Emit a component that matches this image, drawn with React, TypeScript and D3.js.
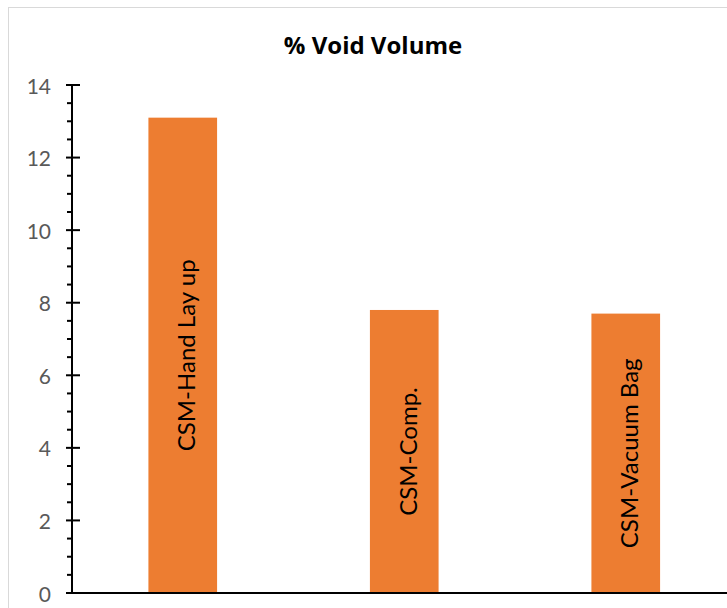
import React from "react";
import * as d3 from "d3";

const categories = ["CSM-Hand Lay up", "CSM-Comp.", "CSM-Vacuum Bag"];
const values = [13.1, 7.8, 7.7];
const yTicks = [0, 2, 4, 6, 8, 10, 12, 14];
const title = "% Void Volume";

const W = 727;
const H = 608;
const FONT = "Lato, 'Open Sans', sans-serif";
const TITLE_FONT = "'Open Sans', Lato, sans-serif";

export default function App() {
  const y = d3.scaleLinear().domain([0, 14]).range([593, 85]);
  const x = d3
    .scaleBand<string>()
    .domain(categories)
    .range([72, 736.5])
    .paddingInner(0.69)
    .paddingOuter(0.345);
  const minor = d3.range(0, 14.01, 0.5).filter((v) => Math.abs(v % 2) > 1e-6);

  return (
    <svg
      width={W}
      height={H}
      style={{ position: "absolute", left: 0, top: 0, background: "#fff" }}
    >
      <rect x={8.5} y={7.5} width={800} height={700} fill="#fff" stroke="#d9d9d9" strokeWidth={1} />
      <text
        x={373}
        y={54}
        textAnchor="middle"
        fontFamily={TITLE_FONT}
        fontWeight="bold"
        fontSize={24}
        fill="#000"
      >
        {title}
      </text>
      {categories.map((c, i) => (
        <rect
          key={c}
          x={x(c)}
          y={y(values[i])}
          width={x.bandwidth()}
          height={y(0) - y(values[i])}
          fill="#ED7D31"
        />
      ))}
      {categories.map((c, i) => {
        const cx = (x(c) as number) + x.bandwidth() / 2 + 3;
        const cy = (y(values[i]) + y(0)) / 2;
        return (
          <text
            key={c + "l"}
            transform={`translate(${cx},${cy}) rotate(-90)`}
            textAnchor="middle"
            dominantBaseline="central"
            fontFamily={FONT}
            fontSize={24}
            fill="#000"
          >
            {c}
          </text>
        );
      })}
      <line x1={72} x2={72} y1={y(14)} y2={y(0)} stroke="#000" strokeWidth={2} />
      <line x1={66} x2={740} y1={y(0)} y2={y(0)} stroke="#000" strokeWidth={2} />
      {yTicks.map((t) => (
        <g key={t}>
          <line x1={66} x2={80} y1={y(t)} y2={y(t)} stroke="#000" strokeWidth={2} />
          <text
            x={51}
            y={y(t)}
            textAnchor="end"
            dominantBaseline="central"
            fontFamily={FONT}
            fontSize={21}
            fill="#595959"
          >
            {t}
          </text>
        </g>
      ))}
      {minor.map((t) => (
        <line key={"m" + t} x1={67} x2={72} y1={y(t)} y2={y(t)} stroke="#000" strokeWidth={2} />
      ))}
    </svg>
  );
}
